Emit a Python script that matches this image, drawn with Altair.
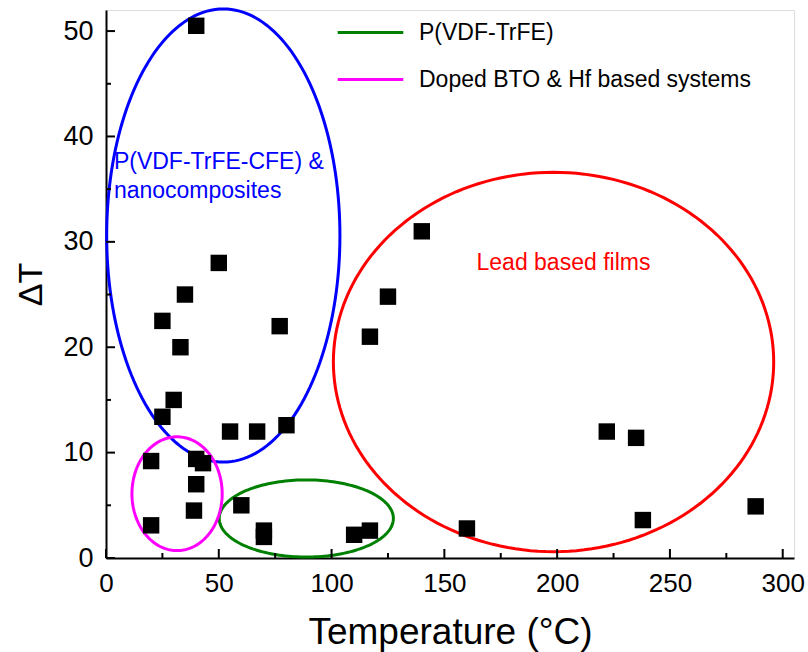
import altair as alt
import pandas as pd
import numpy as np

# Data points (Temperature °C, ΔT)
temps = [40, 50, 35, 25, 77, 33, 30, 25, 55, 67, 80, 20, 40, 43, 40, 39, 20, 60, 70, 70,
         110, 117, 117, 125, 140, 160, 222, 235, 238, 288]
dts = [50.5, 28, 25, 22.5, 22, 20, 15, 13.4, 12, 12, 12.6, 9.2, 9.4, 9.0, 7, 4.5, 3.1, 5, 2.6, 2.0,
       2.2, 2.6, 21, 24.8, 31, 2.8, 12, 11.4, 3.6, 4.9]

# Ellipse annotations: name, center x, center y, radius x, radius y, color
ell_names = ["P(VDF-TrFE-CFE) & nanocomposites", "Lead based films", "P(VDF-TrFE)", "Doped BTO & Hf based systems"]
ell_cx = [52, 198.4, 88.8, 31.5]
ell_cy = [30.6, 18.6, 3.75, 6.1]
ell_rx = [51.7, 97.6, 38.6, 20]
ell_ry = [21.5, 18.0, 3.66, 5.4]
ell_colors = ["#0000FF", "#FF0000", "#008000", "#FF00FF"]

W, H = 688, 548
FONT = "Liberation Sans"

pts = pd.DataFrame({"T": temps, "dT": dts})

rows = []
t = np.linspace(0, 2 * np.pi, 181)
for i, n in enumerate(ell_names):
    for k, a in enumerate(t):
        rows.append({"name": n, "k": k,
                     "x": ell_cx[i] + ell_rx[i] * np.cos(a),
                     "y": ell_cy[i] + ell_ry[i] * np.sin(a)})
ell = pd.DataFrame(rows)

xs = alt.Scale(domain=[0, 305], nice=False, zero=False)
ys = alt.Scale(domain=[0, 52], nice=False, zero=False)

base_x = alt.X("x:Q", scale=xs)
base_y = alt.Y("y:Q", scale=ys)

points = alt.Chart(pts).mark_square(size=270, color="black", opacity=1, filled=True).encode(
    x=alt.X("T:Q", scale=xs,
            axis=alt.Axis(title="Temperature (°C)", values=[0, 50, 100, 150, 200, 250, 300],
                          ticks=False, labelPadding=12, labelFontSize=26, titleFontSize=37,
                          titlePadding=18, titleFontWeight="normal", grid=False, labelFlush=False,
                          domainColor="black", domainWidth=2, labelColor="black", titleColor="black",
                          labelFont=FONT, titleFont=FONT)),
    y=alt.Y("dT:Q", scale=ys,
            axis=alt.Axis(title="ΔT", values=[0, 10, 20, 30, 40, 50],
                          ticks=False, labelPadding=13, labelFontSize=27, titleFontSize=34,
                          titlePadding=14, titleFontWeight="normal", grid=False, labelFlush=False,
                          domainColor="black", domainWidth=2, labelColor="black", titleColor="black",
                          labelFont=FONT, titleFont=FONT)),
)

big = ell[ell["name"].isin(ell_names[:2])]
small = ell[ell["name"].isin(ell_names[2:])]

big_lines = alt.Chart(big).mark_line(strokeWidth=3).encode(
    x=base_x, y=base_y, order="k:Q", detail="name:N",
    color=alt.Color("name:N", scale=alt.Scale(domain=ell_names[:2], range=ell_colors[:2]), legend=None),
)

small_lines = alt.Chart(small).mark_line(strokeWidth=3).encode(
    x=base_x, y=base_y, order="k:Q",
    stroke=alt.Stroke("name:N", scale=alt.Scale(domain=ell_names[2:], range=ell_colors[2:]),
                      legend=alt.Legend(title=None, orient="none", legendX=230, legendY=-12,
                                        symbolType="stroke", symbolSize=4300, symbolStrokeWidth=3,
                                        labelFontSize=23, labelFont=FONT, labelLimit=0,
                                        labelColor="black", rowPadding=-4, labelOffset=14)),
)

# Inward tick marks
xt_major = pd.DataFrame({"v": [0, 50, 100, 150, 200, 250, 300]})
xt_minor = pd.DataFrame({"v": [25, 75, 125, 175, 225, 275]})
yt_major = pd.DataFrame({"v": [0, 10, 20, 30, 40, 50]})
yt_minor = pd.DataFrame({"v": [5, 15, 25, 35, 45]})

xtick1 = alt.Chart(xt_major).mark_rule(color="black", strokeWidth=2).encode(
    x=alt.X("v:Q", scale=xs), y=alt.value(H), y2=alt.value(H - 9))
xtick2 = alt.Chart(xt_minor).mark_rule(color="black", strokeWidth=2).encode(
    x=alt.X("v:Q", scale=xs), y=alt.value(H), y2=alt.value(H - 5))
ytick1 = alt.Chart(yt_major).mark_rule(color="black", strokeWidth=2).encode(
    y=alt.Y("v:Q", scale=ys), x=alt.value(0), x2=alt.value(9))
ytick2 = alt.Chart(yt_minor).mark_rule(color="black", strokeWidth=2).encode(
    y=alt.Y("v:Q", scale=ys), x=alt.value(0), x2=alt.value(5))

# Text annotations
lab_text = ["P(VDF-TrFE-CFE) &", "nanocomposites", "Lead based films"]
lab_x = [3.5, 3.5, 202.8]
lab_y = [37.6, 34.85, 28.0]
lab_color = ["#0000FF", "#0000FF", "#FF0000"]
lab_align = ["left", "left", "center"]
labs = pd.DataFrame({"t": lab_text, "x": lab_x, "y": lab_y})

texts = []
for i in range(len(lab_text)):
    texts.append(alt.Chart(labs.iloc[[i]]).mark_text(
        fontSize=23, font=FONT, align=lab_align[i], baseline="middle", color=lab_color[i]
    ).encode(x=base_x, y=base_y, text="t:N"))

chart = alt.layer(big_lines, small_lines, xtick1, xtick2, ytick1, ytick2, points, *texts).properties(
    width=W, height=H,
    autosize=alt.AutoSizeParams(type="none"),
    padding={"left": 106, "top": 10, "right": 14, "bottom": 94},
).configure_view(stroke="black", strokeWidth=2).configure(background="white")

chart.save("out.html", embed_options={"renderer": "svg", "actions": False})
